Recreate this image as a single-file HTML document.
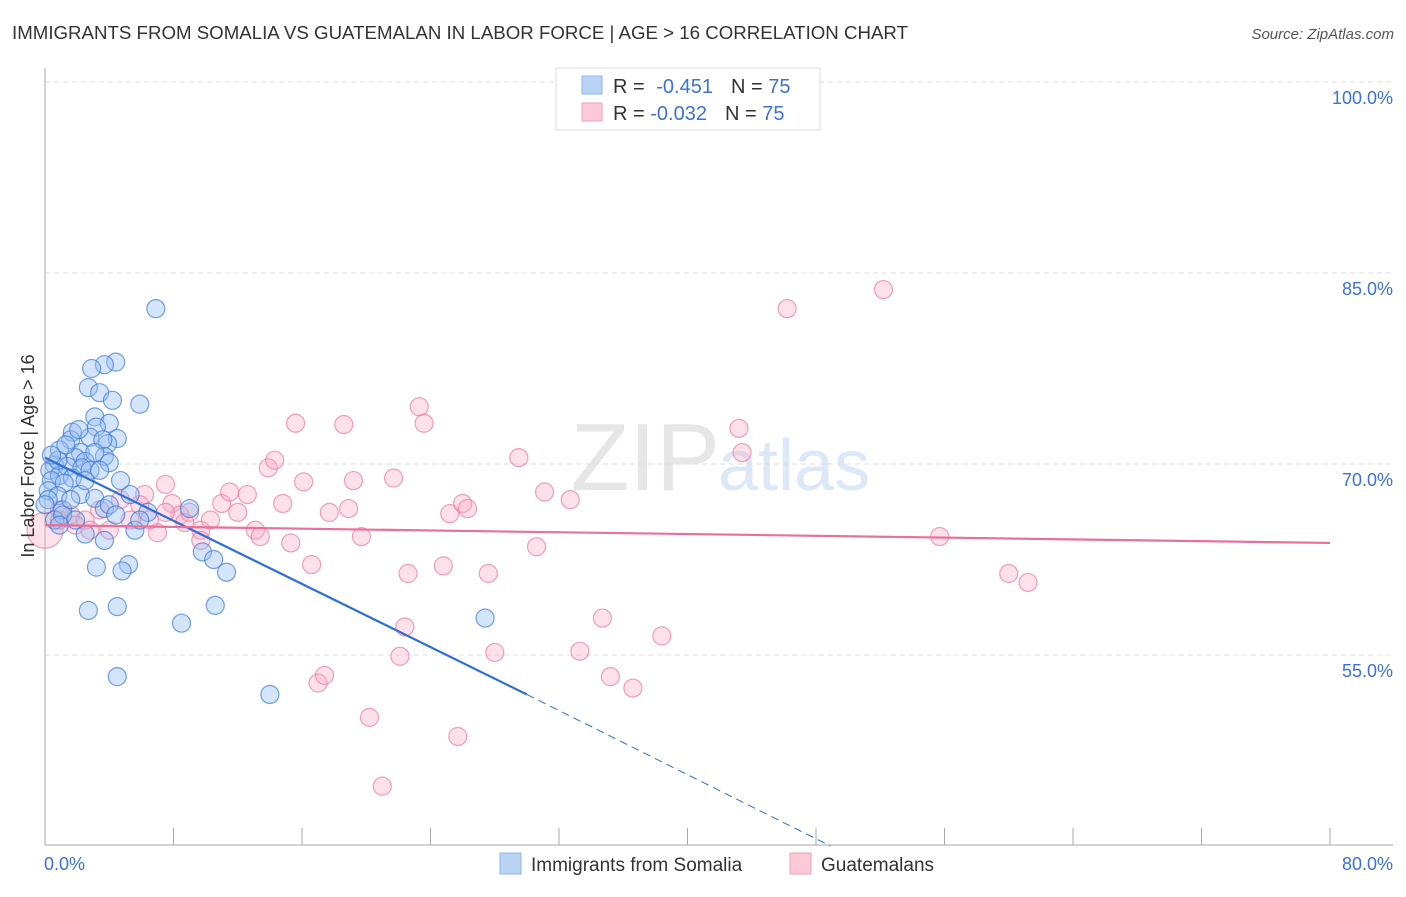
<!DOCTYPE html>
<html><head><meta charset="utf-8"><style>
body{margin:0;background:#fff;font-family:"Liberation Sans",sans-serif}
svg text{font-family:"Liberation Sans",sans-serif}
</style></head><body>
<svg id="c" width="1406" height="892" xmlns="http://www.w3.org/2000/svg">
<text x="12" y="39" font-size="18" fill="#333" textLength="896" lengthAdjust="spacingAndGlyphs">IMMIGRANTS FROM SOMALIA VS GUATEMALAN IN LABOR FORCE | AGE &gt; 16 CORRELATION CHART</text>
<text x="1394" y="39" font-size="15" fill="#555" font-style="italic" text-anchor="end">Source: ZipAtlas.com</text>
<text x="720" y="490" font-size="96" fill="#e6e6e6" text-anchor="end" font-family="Liberation Serif">ZIP</text>
<text x="718" y="490" font-size="72" fill="#dce8f7">atlas</text>
<g id="grid"></g><g id="pts"></g><g id="lines"></g>
<text transform="translate(34,456) rotate(-90)" font-size="18" fill="#333" text-anchor="middle">In Labor Force | Age &gt; 16</text>
<text x="44" y="870" font-size="18" fill="#3b72d6">0.0%</text>
<text x="1393" y="870" font-size="18" fill="#3b72d6" text-anchor="end">80.0%</text>
<g>
<rect x="556" y="68" width="264" height="62" fill="#fff" stroke="#ddd"/>
<rect x="582" y="76" width="20" height="18" fill="#b9d3f5" stroke="#8fb5ea"/>
<rect x="582" y="103" width="20" height="18" fill="#fcc9d8" stroke="#f2a1ba"/>
<text x="613" y="93" font-size="20" fill="#333">R = <tspan fill="#3b72d6" dx="6">-0.451</tspan><tspan dx="18">N = </tspan><tspan fill="#3b72d6">75</tspan></text>
<text x="613" y="120" font-size="20" fill="#333">R = <tspan fill="#3b72d6">-0.032</tspan><tspan dx="18">N = </tspan><tspan fill="#3b72d6">75</tspan></text>
</g>
<g>
<rect x="500" y="853" width="21" height="21" fill="#b9d3f5" stroke="#8fb5ea"/>
<text x="531" y="871" font-size="19" fill="#333">Immigrants from Somalia</text>
<rect x="790" y="853" width="21" height="21" fill="#fcc9d8" stroke="#f2a1ba"/>
<text x="821" y="871" font-size="19" fill="#333">Guatemalans</text>
</g>
</svg>
<script>
const yTicks=[100,85,70,55];
const yTickLabels=["100.0%","85.0%","70.0%","55.0%"];
const xTicks=[0,8,16,24,32,40,48,56,64,72,80];
const somaliaX=[6.9,4.4,3.7,2.9,2.7,3.4,4.2,5.9,3.1,4.0,3.2,1.7,1.6,2.8,4.5,3.9,3.6,0.9,2.2,1.9,3.7,2.5,4.0,0.6,1.4,0.3,2.3,0.9,1.7,0.4,1.2,0.2,0.8,2.2,3.1,1.1,3.7,6.4,9.0,4.0,0.6,1.1,5.6,2.5,9.8,10.5,3.2,5.2,4.8,11.3,2.7,4.5,10.6,8.5,27.4,4.5,14.0,0.2,2.8,0.8,1.3,3.4,4.4,1.9,5.3,0.0,0.4,2.1,2.5,0.9,5.9,3.7,1.6,4.7,3.1];
const somaliaY=[82.2,78.0,77.8,77.5,76.0,75.6,75.0,74.7,73.7,73.2,72.9,72.5,71.9,72.1,72.0,71.6,71.9,71.1,70.9,70.5,70.6,70.2,70.1,69.9,69.8,69.5,69.7,69.1,68.9,68.7,68.5,67.9,67.5,67.6,67.3,66.4,66.5,66.2,66.5,66.8,65.6,66.0,64.8,64.5,63.1,62.5,61.9,62.1,61.6,61.5,58.5,58.8,58.9,57.5,57.9,53.3,51.9,67.2,69.5,70.3,71.5,69.5,66.0,65.6,67.6,66.8,70.7,72.7,68.7,65.2,65.6,64.0,67.2,68.7,70.9];
const guatX=[0,0.9,1.6,2.5,3.4,4.0,5.3,6.2,7.0,7.5,6.5,7.9,8.4,9.0,9.7,10.3,11.0,11.5,12.0,12.6,13.1,13.4,13.9,14.3,14.8,15.3,15.6,16.1,16.6,17.0,17.4,17.7,18.6,18.9,19.2,19.7,20.2,21.0,21.7,22.1,22.4,22.6,23.3,23.6,24.8,25.2,26.0,26.3,25.7,27.6,28.0,29.5,30.6,31.1,32.7,33.3,34.7,35.2,36.6,38.4,43.2,43.4,46.2,52.2,55.7,60.0,61.2,0.9,1.9,4.7,2.8,5.9,7.5,8.7,9.7];
const guatY=[64.8,65.6,66.0,65.6,66.4,64.8,65.6,67.6,64.6,68.4,65.6,66.9,66.0,66.2,64.8,65.6,66.9,67.8,66.2,67.6,64.8,64.3,69.7,70.3,66.9,63.8,73.2,68.6,62.1,52.8,53.4,66.2,73.1,66.5,68.7,64.3,50.1,44.7,68.9,54.9,57.2,61.4,74.5,73.2,62.0,66.1,66.9,66.5,48.6,61.4,55.2,70.5,63.5,67.8,67.2,55.3,57.9,53.3,52.4,56.5,72.8,70.9,82.2,83.7,64.3,61.4,60.7,66.4,65.2,67.2,64.8,66.8,66.2,65.4,64.0];
const somaliaTrendX=[0,30,48.9];
const somaliaTrendY=[70.5,51.9,40.0];
const guatTrendX=[0,80];
const guatTrendY=[65.2,63.8];
const X=v=>45+v*(1330-45)/80;
const Y=v=>82+(100-v)*191/15;
const NS="http://www.w3.org/2000/svg";
function mk(p,t,a){const e=document.createElementNS(NS,t);for(const k in a)e.setAttribute(k,a[k]);p.appendChild(e);return e;}
const g=document.getElementById('grid');
yTicks.forEach((v,i)=>{
 const l=mk(g,'line',{x1:45,x2:1393,y1:Y(v),y2:Y(v),stroke:'#ddd','stroke-dasharray':'5,4'});
 
 
 const t=mk(g,'text',{x:1393,y:Y(v)+22,'font-size':18,fill:'#3b72d6','text-anchor':'end'});
 t.textContent=yTickLabels[i];
 
 
});
let a=mk(g,'line',{x1:45,x2:45,y1:68,y2:845,stroke:'#aaa'});


a=mk(g,'line',{x1:45,x2:1393,y1:845,y2:845,stroke:'#aaa'});


xTicks.forEach(v=>{const t=mk(g,'line',{x1:X(v),x2:X(v),y1:828,y2:845,stroke:'#aaa'});
 
 });
const p=document.getElementById('pts');
guatX.forEach((x,i)=>{const c=mk(p,'circle',{cx:X(x),cy:Y(guatY[i]),r:i==0?18:9,fill:'rgba(248,170,195,0.35)',stroke:'rgba(235,120,160,0.7)','stroke-width':1.2});
 
 });
somaliaX.forEach((x,i)=>{const c=mk(p,'circle',{cx:X(x),cy:Y(somaliaY[i]),r:9,fill:'rgba(150,190,240,0.4)',stroke:'rgba(60,120,215,0.7)','stroke-width':1.2});
 
 });
const L=document.getElementById('lines');
let t=mk(L,'line',{x1:X(somaliaTrendX[0]),y1:Y(somaliaTrendY[0]),x2:X(somaliaTrendX[1]),y2:Y(somaliaTrendY[1]),stroke:'#2e6fd6','stroke-width':2.2});


t=mk(L,'line',{x1:X(somaliaTrendX[1]),y1:Y(somaliaTrendY[1]),x2:X(somaliaTrendX[2]),y2:Y(somaliaTrendY[2]),stroke:'#2e6fd6','stroke-width':1,'stroke-dasharray':'8,5'});


t=mk(L,'line',{x1:X(guatTrendX[0]),y1:Y(guatTrendY[0]),x2:X(guatTrendX[1]),y2:Y(guatTrendY[1]),stroke:'#e8709a','stroke-width':2.2});


</script>
</body></html>
